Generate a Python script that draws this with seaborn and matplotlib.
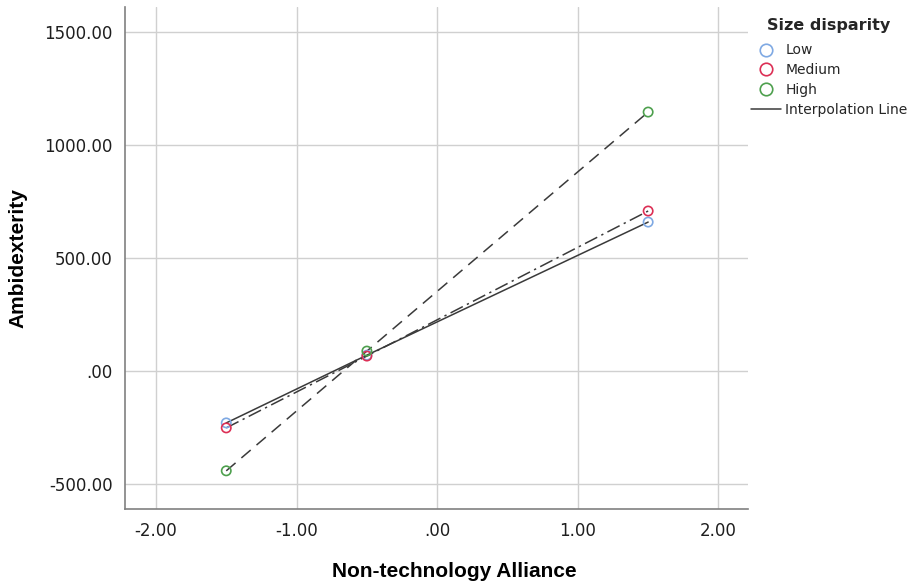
import matplotlib.pyplot as plt
import seaborn as sns
import pandas as pd
from matplotlib.lines import Line2D
from matplotlib.ticker import FuncFormatter

# values
alliance = [-1.5, -0.5, 1.5]
groups = ['Low', 'Medium', 'High']
low_vals = [-230, 70, 659]
medium_vals = [-252, 66, 708]
high_vals = [-442, 88, 1146]

colors = {'Low': '#7fa9e3', 'Medium': '#dc2f55', 'High': '#4ea04e'}
dashes = {'Low': '', 'Medium': (9, 3, 1.5, 3), 'High': (8, 5)}

df = pd.DataFrame({
    'Non-technology Alliance': alliance * 3,
    'Ambidexterity': low_vals + medium_vals + high_vals,
    'Size disparity': [g for g in groups for _ in alliance],
})

sns.set_style("white")
plt.rcParams['font.family'] = ['DejaVu Sans']

fig = plt.figure(figsize=(9.2, 5.87), dpi=100)
ax = fig.add_axes([125 / 920, 78 / 587, 623 / 920, 502 / 587])

sns.lineplot(data=df, x='Non-technology Alliance', y='Ambidexterity',
             style='Size disparity', dashes=dashes, color='#3a3a3a',
             linewidth=1.1, legend=False, ax=ax, zorder=3)
sns.scatterplot(data=df, x='Non-technology Alliance', y='Ambidexterity',
                hue='Size disparity', palette=colors, s=45, linewidth=1.2,
                legend=False, ax=ax, zorder=4)

# hollow markers
for coll in ax.collections:
    fc = coll.get_facecolors()
    coll.set_edgecolors(fc)
    coll.set_facecolors('none')

ax.set_xlim(-2.22, 2.21)
ax.set_ylim(-611, 1611)
ax.set_xticks([-2, -1, 0, 1, 2])
ax.set_yticks([-500, 0, 500, 1000, 1500])
fmt = FuncFormatter(lambda v, p: '.00' if abs(v) < 1e-9 else f'{v:.2f}')
ax.xaxis.set_major_formatter(fmt)
ax.yaxis.set_major_formatter(fmt)
ax.grid(True, color='#d0d0d0', linewidth=1)
ax.set_axisbelow(True)
ax.tick_params(length=0, labelsize=12, labelcolor='#1e1e1e', pad=9)

for side in ['top', 'right']:
    ax.spines[side].set_visible(False)
for side in ['left', 'bottom']:
    ax.spines[side].set_color('#808080')
    ax.spines[side].set_linewidth(1.2)

ax.set_xlabel('Non-technology Alliance', fontsize=15, fontweight='bold',
              family='Liberation Sans', color='black')
ax.xaxis.set_label_coords(0.528, -0.106)
ax.set_ylabel('Ambidexterity', fontsize=15, fontweight='bold',
              family='Liberation Sans', labelpad=12, color='black')

handles = [Line2D([], [], marker='o', linestyle='none', markersize=9,
                  markerfacecolor='none', markeredgecolor=colors[g],
                  markeredgewidth=1.2) for g in groups]
handles.append(Line2D([], [], color='#3a3a3a', linewidth=1.1))
leg = ax.legend(handles, groups + ['Interpolation Line'], title='Size disparity',
                loc='upper left', bbox_to_anchor=(0.993, 0.992), frameon=False,
                fontsize=10, title_fontproperties={'weight': 'bold', 'size': 11.5},
                handlelength=2.2, handletextpad=0.3, labelspacing=0.42,
                borderaxespad=0.1)
leg._legend_box.sep = 7.5

fig.savefig('out.png', dpi=100)
